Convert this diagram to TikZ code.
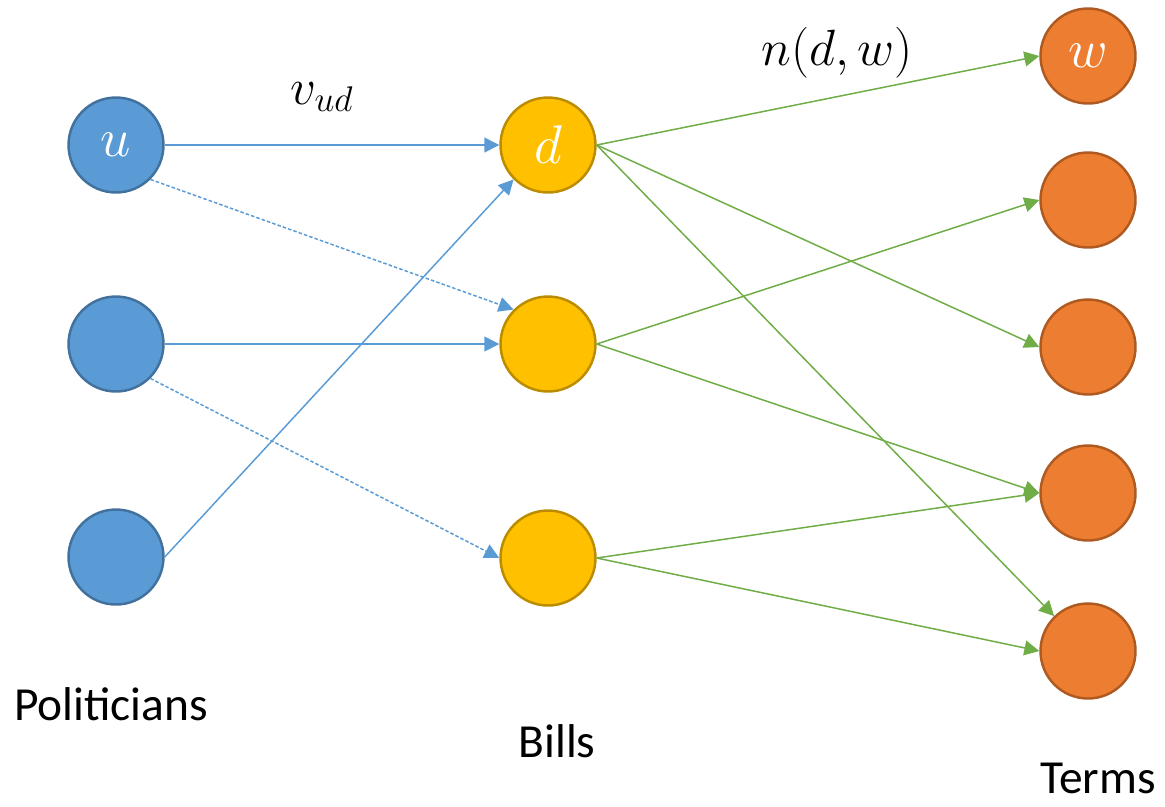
\RequirePackage{fix-cm}
\documentclass[tikz,border=0pt]{standalone}
\usepackage{fontspec}
\setmainfont{Carlito}
\usetikzlibrary{arrows.meta}
\definecolor{polblue}{HTML}{5B9BD5}
\definecolor{polborder}{HTML}{41719C}
\definecolor{billgold}{HTML}{FFC000}
\definecolor{billborder}{HTML}{BC8C00}
\definecolor{termorange}{HTML}{ED7D31}
\definecolor{termborder}{HTML}{AE5A21}
\definecolor{edgegreen}{HTML}{70AD47}
\begin{document}
\begin{tikzpicture}[x=0.02cm, y=-0.02cm,
        vertex/.style={circle, minimum size=1.9cm, inner sep=0pt, line width=1.4pt, text=white, font=\fontsize{31}{37}\selectfont},
        pol/.style={vertex, fill=polblue, draw=polborder},
        bill/.style={vertex, fill=billgold, draw=billborder},
        term/.style={vertex, fill=termorange, draw=termborder},
        vote/.style={polblue, line width=0.85pt, -{Triangle[length=8.5pt, width=8.5pt]}},
        maybe/.style={vote, dash pattern=on 2pt off 1.2pt},
        word/.style={edgegreen, line width=0.85pt, -{Triangle[length=8.5pt, width=8.5pt]}},
        weight/.style={anchor=base, font=\fontsize{29}{35}\selectfont},
        caption/.style={anchor=base, inner sep=0pt, font=\fontsize{27}{32}\selectfont}]
    \useasboundingbox (0,0) rectangle (1165,806);
    \foreach \i/\y/\lab in {1/145/u, 2/344/{}, 3/557/{}} {
        \node[pol] (p\i) at (116,\y) {$\lab$};
    }
    \foreach \i/\y/\lab in {1/145/d, 2/344/{}, 3/558/{}} {
        \node[bill] (b\i) at (548,\y) {$\lab$};
    }
    \foreach \i/\y/\lab in {1/56/w, 2/200/{}, 3/347/{}, 4/493/{}, 5/651/{}} {
        \node[term] (t\i) at (1088,\y) {$\lab$};
    }
    \draw[vote] (p1) -- (b1);
    \draw[maybe] (p1.-45) -- (b2.135);
    \draw[vote] (p2) -- (b2);
    \draw[maybe] (p2.-45) -- (b3.west);
    \draw[vote] (p3.east) -- (b1.-135);
    \draw[word] (b1.east) -- (t1.west);
    \draw[word] (b1.east) -- (t3.west);
    \draw[word] (b1.east) -- (t5);
    \draw[word] (b2.east) -- (t2.west);
    \draw[word] (b2.east) -- (t4.west);
    \draw[word] (b3.east) -- (t4.west);
    \draw[word] (b3.east) -- (t5.west);
    \node[weight] (vud) at (322,104) {$v_{ud}$};
    \node[weight] (ndw) at (837,65) {$n(d,w)$};
    \node[caption] (politicians) at (111,720) {Politicians};
    \node[caption] (bills) at (557,757) {Bills};
    \node[caption] (terms) at (1098,793) {Terms};
\end{tikzpicture}
\end{document}
